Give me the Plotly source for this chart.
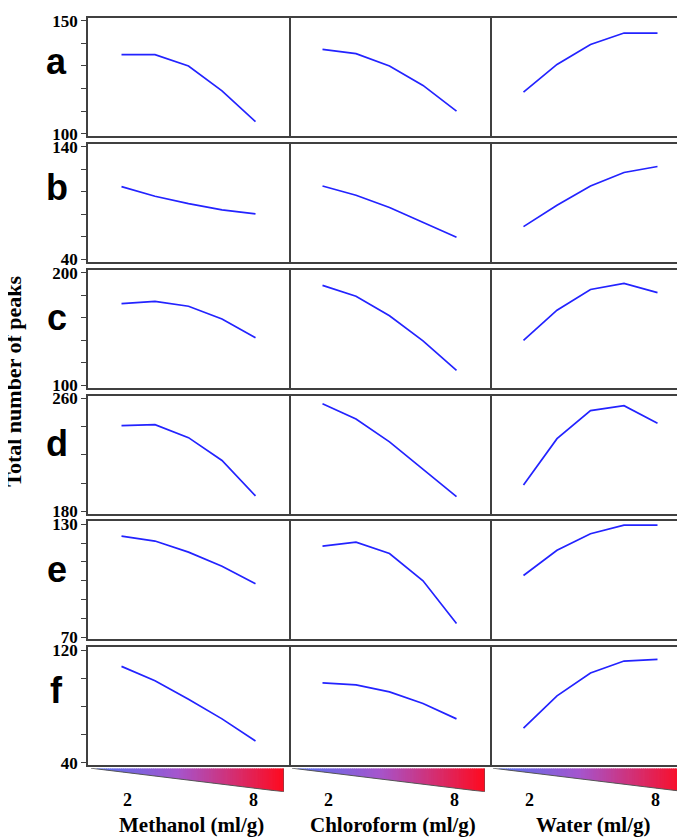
import plotly.graph_objects as go

W, H = 685, 839

# ---------------- data ----------------
x_levels = [2, 3.5, 5, 6.5, 8]
solvents = ["Methanol (ml/g)", "Chloroform (ml/g)", "Water (ml/g)"]
row_letters = ["a", "b", "c", "d", "e", "f"]
y_min = [100, 40, 100, 180, 70, 40]
y_max = [150, 140, 200, 260, 130, 120]
y_step = [10, 20, 20, 20, 10, 20]
grad_ticks = ["2", "8"]

peaks_a = [[135.0, 135.0, 130.0, 119.0, 105.3],
           [137.4, 135.5, 130.0, 121.4, 110.0],
           [118.4, 130.7, 139.5, 144.6, 144.6]]
peaks_b = [[104.6, 96.1, 89.6, 84.1, 80.4],
           [105.2, 97.0, 86.1, 73.0, 59.8],
           [69.2, 88.2, 105.2, 117.2, 122.5]]
peaks_c = [[172.5, 174.5, 170.2, 158.9, 142.3],
           [188.7, 179.1, 161.7, 139.5, 113.4],
           [140.0, 166.7, 185.0, 190.4, 182.3]]
peaks_d = [[240.7, 241.4, 232.2, 216.0, 190.9],
           [256.3, 245.4, 229.2, 210.1, 190.4],
           [198.6, 231.5, 251.4, 254.9, 242.4]]
peaks_e = [[123.7, 121.1, 115.2, 107.7, 98.4],
           [118.4, 120.5, 114.5, 100.0, 77.3],
           [102.8, 116.2, 125.0, 129.6, 129.6]]
peaks_f = [[108.5, 98.4, 85.2, 71.3, 55.6],
           [96.8, 95.4, 90.4, 82.2, 71.3],
           [64.8, 87.6, 103.8, 112.3, 113.5]]
all_rows = [peaks_a, peaks_b, peaks_c, peaks_d, peaks_e, peaks_f]

# ---------------- layout geometry (pixels) ----------------
col_edges = [80, 281, 482, 683]
row_tops = [4, 132, 260, 388, 516, 644]
row_h = 120
letter_centers = [48, 176, 309, 437, 565, 688]
grad_top, grad_bot = 767, 791
grad_w = 193

SERIF = "Liberation Serif"
SANS = "Liberation Sans"
BORDER = "#404040"
LINE = "#2323ff"

fig = go.Figure()
layout = {}
annotations = []

def px_x(p):
    return p / W

def px_y(p):
    return 1 - p / H

k = 0
for r in range(6):
    lo, hi = y_min[r], y_max[r]
    span = hi - lo
    tickvals = list(range(lo, hi + 1, y_step[r]))
    ticktext = [str(v) if v in (lo, hi) else "" for v in tickvals]
    for c in range(3):
        k += 1
        xa = "xaxis" if k == 1 else f"xaxis{k}"
        ya = "yaxis" if k == 1 else f"yaxis{k}"
        xr = "x" if k == 1 else f"x{k}"
        yr = "y" if k == 1 else f"y{k}"
        fig.add_trace(go.Scatter(x=x_levels, y=all_rows[r][c], mode="lines",
                                 line=dict(color=LINE, width=1.7),
                                 xaxis=xr, yaxis=yr, showlegend=False,
                                 hoverinfo="skip"))
        layout[xa] = dict(domain=[px_x(col_edges[c]), px_x(col_edges[c + 1])],
                          range=[0.5, 9.5], anchor=yr, showticklabels=False,
                          ticks="", showgrid=False, zeroline=False,
                          showline=True, mirror=True, linecolor=BORDER,
                          linewidth=1.5)
        ydict = dict(domain=[px_y(row_tops[r] + row_h), px_y(row_tops[r])],
                     range=[lo - 0.02 * span, hi + 0.026 * span], anchor=xr,
                     showgrid=False, zeroline=False, showline=True,
                     linecolor=BORDER, linewidth=1.5)
        if c == 0:
            ydict.update(mirror=True, tickvals=tickvals, ticktext=ticktext,
                         ticks="outside", ticklen=5, tickwidth=1,
                         tickcolor=BORDER,
                         tickfont=dict(family=SERIF, size=17, color="black",
                                       weight="bold"))
        else:
            ydict.update(side="right", mirror=False, showticklabels=False,
                         ticks="")
        layout[ya] = ydict
    annotations.append(dict(text=row_letters[r], x=px_x(49),
                            y=px_y(letter_centers[r]), xref="paper", yref="paper",
                            xanchor="center", yanchor="middle", showarrow=False,
                            font=dict(family=SANS, size=36, color="black",
                                      weight="bold")))

# ---------------- gradient wedges ----------------
stops = [(0.0, (85, 115, 240)), (0.45, (165, 85, 205)), (1.0, (255, 10, 30))]

def grad_color(t):
    for (t0, c0), (t1, c1) in zip(stops[:-1], stops[1:]):
        if t <= t1:
            f = (t - t0) / (t1 - t0)
            return "rgb(%d,%d,%d)" % tuple(round(a + (b - a) * f) for a, b in zip(c0, c1))
    return "rgb(%d,%d,%d)" % stops[-1][1]

N = 90
for c in range(3):
    k += 1
    xa, ya = f"xaxis{k}", f"yaxis{k}"
    xr, yr = f"x{k}", f"y{k}"
    left = col_edges[c] + 3
    layout[xa] = dict(domain=[px_x(left), px_x(left + grad_w)], range=[0, 1],
                      anchor=yr, visible=False, fixedrange=True)
    layout[ya] = dict(domain=[px_y(grad_bot), px_y(grad_top)], range=[0, 1],
                      anchor=xr, visible=False, fixedrange=True)
    for i in range(N):
        x0 = i / N
        x1 = min(1.0, (i + 1) / N + 0.004)
        fig.add_trace(go.Scatter(x=[x0, x1, x1, x0, x0],
                                 y=[1, 1, 1 - x1, 1 - x0, 1],
                                 mode="lines", fill="toself",
                                 fillcolor=grad_color((i + 0.5) / N),
                                 line=dict(width=0), xaxis=xr, yaxis=yr,
                                 showlegend=False, hoverinfo="skip"))
    fig.add_trace(go.Scatter(x=[0, 1, 1], y=[1, 0, 1], mode="lines",
                             line=dict(color="#555555", width=1),
                             xaxis=xr, yaxis=yr, showlegend=False,
                             hoverinfo="skip"))
    for frac, lab in zip([0.19, 0.84], grad_ticks):
        annotations.append(dict(text=lab, x=px_x(left + frac * grad_w),
                                y=px_y(799), xref="paper", yref="paper",
                                xanchor="center", yanchor="middle",
                                showarrow=False,
                                font=dict(family=SERIF, size=18, color="black",
                                          weight="bold")))
    annotations.append(dict(text=solvents[c],
                            x=px_x((col_edges[c] + col_edges[c + 1]) / 2 + 3),
                            y=px_y(825), xref="paper", yref="paper",
                            xanchor="center", yanchor="middle", showarrow=False,
                            font=dict(family=SERIF, size=21, color="black",
                                      weight="bold")))

annotations.append(dict(text="Total number of peaks", x=px_x(6),
                        y=px_y(374), xref="paper", yref="paper",
                        xanchor="center", yanchor="middle", showarrow=False,
                        textangle=-90,
                        font=dict(family=SERIF, size=22, color="black",
                                  weight="bold")))

fig.update_layout(**layout)
fig.update_layout(width=W, height=H, margin=dict(l=0, r=0, t=0, b=0),
                  paper_bgcolor="white", plot_bgcolor="white",
                  annotations=annotations, showlegend=False)

fig.write_html("out.html")
